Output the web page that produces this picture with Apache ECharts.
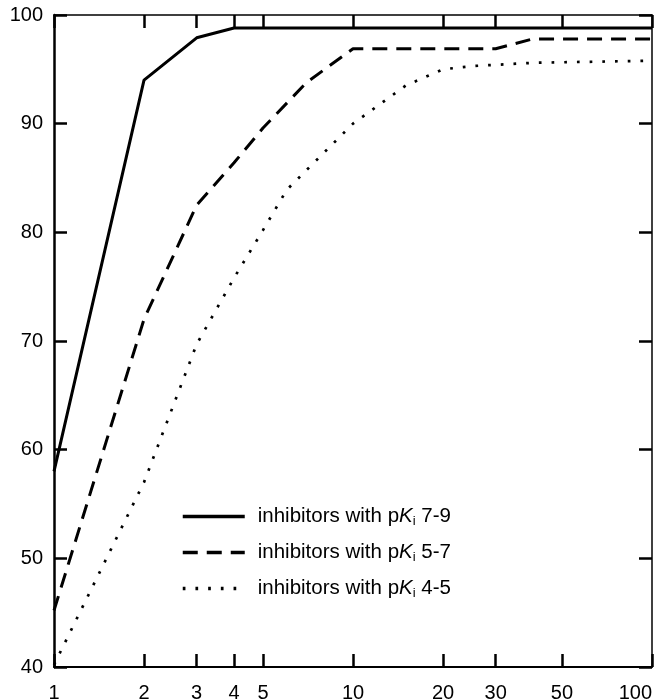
<!DOCTYPE html>
<html>
<head>
<meta charset="utf-8">
<script src="https://cdn.jsdelivr.net/npm/echarts@6/dist/echarts.min.js"></script>
<style>
html,body{margin:0;padding:0;background:#fff;}
#chart{width:664px;height:699px;}
</style>
</head>
<body>
<div id="chart"></div>
<script>
// Data
const xTicks = [1, 2, 3, 4, 5, 10, 20, 30, 50, 100];
const yTicks = [40, 50, 60, 70, 80, 90, 100];

const solidX = [1, 2, 3, 4, 100];
const solidY = [58, 94, 97.9, 98.8, 98.8];

const dashedX = [1, 2, 3, 4, 5, 7, 10, 30, 40, 100];
const dashedY = [45.2, 72, 82.5, 86.4, 89.6, 93.8, 96.9, 96.9, 97.8, 97.8];

const dottedX = [1, 2, 3, 4, 5, 6, 10, 15, 20, 25, 40, 100];
const dottedY = [40.2, 57, 69.7, 75.8, 80.2, 83.9, 90, 93.5, 95.0, 95.3, 95.6, 95.8];

const seriesNames = ['pKi 7-9', 'pKi 5-7', 'pKi 4-5'];
const legendRanges = ['7-9', '5-7', '4-5'];

function pairs(xs, ys) { return xs.map((x, i) => [x, ys[i]]); }

const FONT = '"Liberation Sans", Arial, Helvetica, sans-serif';
const chart = echarts.init(document.getElementById('chart'), null, { renderer: 'canvas' });

const baseX = {
  type: 'log', logBase: 10, min: 1, max: 100,
  axisLine: { show: true, onZero: false, lineStyle: { color: '#000', width: 2 } },
  axisTick: { show: true, inside: true, length: 13, customValues: xTicks, lineStyle: { color: '#000', width: 2.5 } },
  minorTick: { show: false },
  splitLine: { show: false },
};
const baseY = {
  type: 'value', min: yTicks[0], max: yTicks[yTicks.length - 1], interval: 10,
  axisLine: { show: true, onZero: false, lineStyle: { color: '#000', width: 2 } },
  axisTick: { show: true, inside: true, length: 13, lineStyle: { color: '#000', width: 2.5 } },
  splitLine: { show: false },
};

chart.setOption({
  animation: false,
  backgroundColor: '#fff',
  grid: { left: 54, right: 12, top: 15, bottom: 32, containLabel: false, outerBoundsMode: 'none' },
  xAxis: [
    Object.assign({}, baseX, {
      position: 'bottom',
      axisLabel: {
        show: true, customValues: xTicks, margin: 16, color: '#000', fontSize: 20, fontFamily: FONT,
        alignMaxLabel: 'right', formatter: v => String(Math.round(v))
      }
    }),
    Object.assign({}, baseX, {
      position: 'top',
      axisLine: { show: true, onZero: false, lineStyle: { color: '#000', width: 1.5 } },
      axisLabel: { show: false }
    })
  ],
  yAxis: [
    Object.assign({}, baseY, {
      position: 'left',
      axisLine: { show: true, onZero: false, lineStyle: { color: '#000', width: 2.5 } },
      axisLabel: { show: true, margin: 11, color: '#000', fontSize: 20, fontFamily: FONT, padding: [4, 0, 0, 0] }
    }),
    Object.assign({}, baseY, {
      position: 'right',
      axisLine: { show: true, onZero: false, lineStyle: { color: '#000', width: 1.5 } },
      axisLabel: { show: false }
    })
  ],
  legend: {
    orient: 'vertical',
    left: 181, top: 505, padding: 0,
    itemWidth: 62, itemHeight: 14, itemGap: 13,
    itemStyle: { color: 'rgba(0,0,0,0)', borderWidth: 0, opacity: 0 },
    lineStyle: { width: 3.5, color: '#000' },
    data: seriesNames,
    formatter: function (name) {
      const i = seriesNames.indexOf(name);
      return 'inhibitors with p{k|K}{s|i} ' + legendRanges[i];
    },
    textStyle: {
      color: '#000', fontSize: 20.5, fontFamily: FONT, lineHeight: 22, padding: [0, 0, 0, 8],
      rich: {
        k: { fontStyle: 'italic', fontSize: 20.5, fontFamily: FONT, color: '#000', lineHeight: 22 },
        s: { fontSize: 13, fontFamily: FONT, color: '#000', lineHeight: 22, padding: [10, 0, 0, 0] }
      }
    }
  },
  series: [
    {
      name: seriesNames[0], type: 'line', data: pairs(solidX, solidY),
      symbol: 'none', lineStyle: { color: '#000', width: 3, type: 'solid' },
      itemStyle: { color: '#000' }
    },
    {
      name: seriesNames[1], type: 'line', data: pairs(dashedX, dashedY),
      symbol: 'none', lineStyle: { color: '#000', width: 3, type: [15, 9] },
      itemStyle: { color: '#000' }
    },
    {
      name: seriesNames[2], type: 'line', data: pairs(dottedX, dottedY),
      symbol: 'none', lineStyle: { color: '#000', width: 2.7, type: [2.7, 10] },
      itemStyle: { color: '#000' }
    }
  ]
});
</script>
</body>
</html>
